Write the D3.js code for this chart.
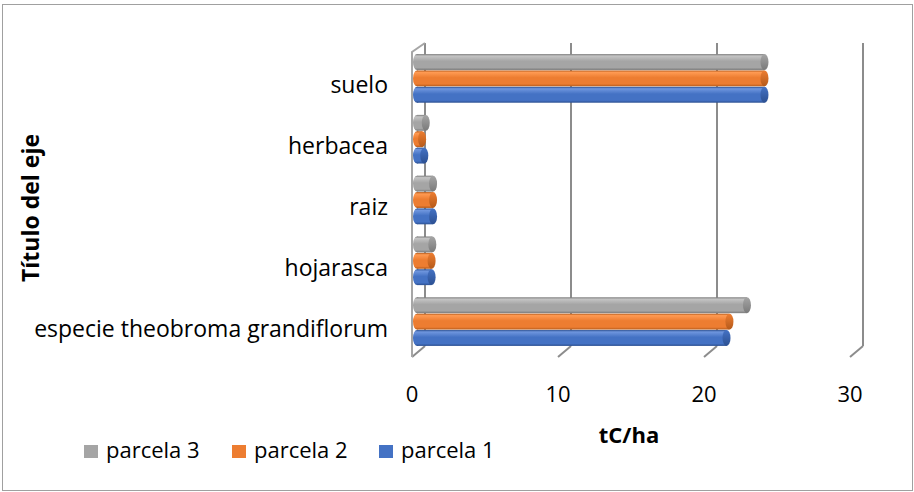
<!DOCTYPE html>
<html>
<head>
<meta charset="utf-8">
<script src="https://cdn.jsdelivr.net/npm/d3@7"></script>
<style>
  body { margin: 0; background: #fff; }
  text { font-family: "Open Sans", "Noto Sans", sans-serif; fill: #000; }
</style>
</head>
<body>
<div id="chart"></div>
<script>
// data (bottom to top in the chart)
var categories = ["especie theobroma grandiflorum", "hojarasca", "raiz", "herbacea", "suelo"];
var seriesNames = ["parcela 3", "parcela 2", "parcela 1"];
var parcela1 = [21.2, 1.0, 1.1, 0.5, 23.8];
var parcela2 = [21.4, 1.0, 1.1, 0.35, 23.8];
var parcela3 = [22.6, 1.05, 1.1, 0.6, 23.8];
var xTicks = [0, 10, 20, 30];

var colors = {
  "parcela 1": { base: "#4472C4", light: "#6f96de", dark: "#2c5092" },
  "parcela 2": { base: "#ED7D31", light: "#ff9a52", dark: "#b55a1a" },
  "parcela 3": { base: "#A5A5A5", light: "#c4c4c4", dark: "#7a7a7a" }
};
var values = { "parcela 1": parcela1, "parcela 2": parcela2, "parcela 3": parcela3 };

var svgWidth = 914, svgHeight = 492;

var svg = d3.select("#chart").append("svg")
  .attr("width", svgWidth)
  .attr("height", svgHeight);

// chart border
svg.append("rect")
  .attr("x", 2.5).attr("y", 4.5)
  .attr("width", 910).attr("height", 486)
  .attr("fill", "#fff")
  .attr("stroke", "#a0a0a0");

// 3d depth offset (back wall -> front)
var depthX = -13, depthY = 11;
var wallTop = 43, wallBottom = 346;

// scales
var xBack = d3.scaleLinear().domain([0, 30]).range([425, 863]);
var xBar = d3.scaleLinear().domain([0, 30]).range([417, 855]);
var y = d3.scaleBand().domain(categories).range([352, 48]);
var yInner = d3.scaleBand().domain(seriesNames).range([0, y.bandwidth() * 0.8]).paddingInner(0.03);

// gradients
var defs = svg.append("defs");
seriesNames.forEach(function(s, i) {
  var c = colors[s];
  var g = defs.append("linearGradient").attr("id", "body" + i)
    .attr("x1", 0).attr("y1", 0).attr("x2", 0).attr("y2", 1);
  g.append("stop").attr("offset", "0%").attr("stop-color", c.dark);
  g.append("stop").attr("offset", "12%").attr("stop-color", c.light);
  g.append("stop").attr("offset", "45%").attr("stop-color", c.base);
  g.append("stop").attr("offset", "85%").attr("stop-color", c.base);
  g.append("stop").attr("offset", "100%").attr("stop-color", c.dark);
  var e = defs.append("linearGradient").attr("id", "cap" + i)
    .attr("x1", 0).attr("y1", 0).attr("x2", 0).attr("y2", 1);
  e.append("stop").attr("offset", "0%").attr("stop-color", c.base);
  e.append("stop").attr("offset", "100%").attr("stop-color", c.dark);
});

// back wall gridlines
var grid = svg.append("g").attr("stroke", "#8c8c8c").attr("stroke-width", 2).attr("fill", "none");
xTicks.forEach(function(t) {
  grid.append("line")
    .attr("x1", xBack(t)).attr("x2", xBack(t))
    .attr("y1", wallTop).attr("y2", wallBottom);
  grid.append("line")
    .attr("x1", xBack(t)).attr("y1", wallBottom)
    .attr("x2", xBack(t) + depthX).attr("y2", wallBottom + depthY);
});
// side wall (left)
grid.append("path")
  .attr("stroke", "#a6a6a6")
  .attr("d", "M" + xBack(0) + "," + wallTop +
    "L" + (xBack(0) + depthX) + "," + (wallTop + depthY - 2) +
    "L" + (xBack(0) + depthX) + "," + (wallBottom + depthY));

// bars as cylinders
var groups = svg.selectAll(".cat")
  .data(categories)
  .enter().append("g")
  .attr("transform", function(d) { return "translate(0," + y(d) + ")"; });

seriesNames.forEach(function(s, i) {
  groups.each(function(cat, ci) {
    var g = d3.select(this);
    var v = values[s][ci];
    var top = yInner(s) + y.bandwidth() * 0.1;
    var h = yInner.bandwidth();
    var x0 = xBar(0), x1 = xBar(v);
    var rx = 4;
    g.append("ellipse")
      .attr("cx", x0).attr("cy", top + h / 2)
      .attr("rx", rx).attr("ry", h / 2)
      .attr("fill", "url(#body" + i + ")");
    g.append("rect")
      .attr("x", x0).attr("y", top)
      .attr("width", Math.max(0, x1 - x0)).attr("height", h)
      .attr("fill", "url(#body" + i + ")");
    g.append("ellipse")
      .attr("cx", x1).attr("cy", top + h / 2)
      .attr("rx", rx).attr("ry", h / 2)
      .attr("fill", "url(#cap" + i + ")");
  });
});

// category labels
svg.selectAll(".catLabel")
  .data(categories)
  .enter().append("text")
  .attr("x", 388)
  .attr("y", function(d) { return y(d) + y.bandwidth() / 2 + 15; })
  .attr("text-anchor", "end")
  .style("font-size", "23px")
  .text(function(d) { return d; });

// x tick labels
svg.selectAll(".tick")
  .data(xTicks)
  .enter().append("text")
  .attr("x", function(d) { return xBack(d) + depthX; })
  .attr("y", 402)
  .attr("text-anchor", "middle")
  .style("font-size", "22px")
  .text(function(d) { return d; });

// axis titles
svg.append("text")
  .attr("x", 629).attr("y", 443)
  .attr("text-anchor", "middle")
  .style("font-size", "22px").style("font-weight", "bold")
  .text("tC/ha");

svg.append("text")
  .attr("transform", "translate(39,208) rotate(-90)")
  .attr("text-anchor", "middle")
  .style("font-size", "23px").style("font-weight", "bold")
  .text("Título del eje");

// legend
var legendX = [84, 232, 379];
var legend = svg.selectAll(".legend")
  .data(seriesNames)
  .enter().append("g")
  .attr("transform", function(d, i) { return "translate(" + legendX[i] + ",445)"; });
legend.append("rect")
  .attr("width", 14).attr("height", 13)
  .attr("fill", function(d) { return colors[d].base; });
legend.append("text")
  .attr("x", 22).attr("y", 13)
  .style("font-size", "22px")
  .text(function(d) { return d; });
</script>
</body>
</html>
